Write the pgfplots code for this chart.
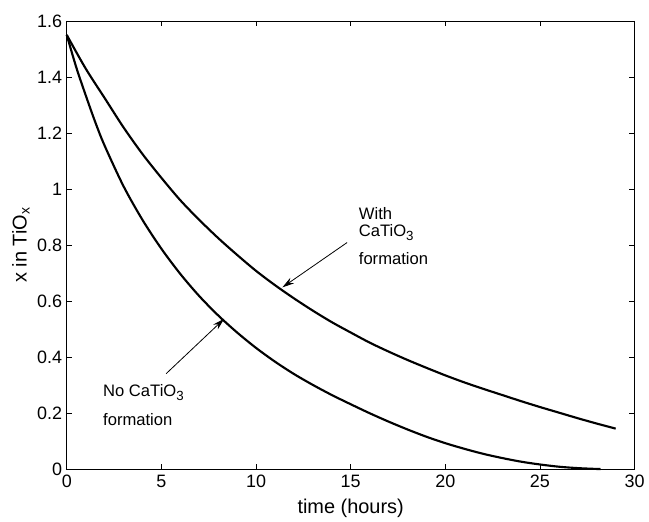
\documentclass[border=0pt]{standalone}
\usepackage{fontspec}
\setmainfont{Liberation Sans}
\usepackage{pgfplots}
\pgfplotsset{compat=1.18}
\usetikzlibrary{arrows.meta}
\newcommand{\fs}{\fontsize{12.5}{14}\selectfont}
\newcommand{\ft}{\fontsize{13.5}{15}\selectfont}
\newcommand{\fl}{\fontsize{15}{17}\selectfont}
\newcommand{\lowsub}[1]{\raisebox{-0.45ex}{\fontsize{10}{12}\selectfont #1}}
\begin{document}
\begin{tikzpicture}[every node/.style={font=\fs}]
\begin{axis}[
  scale only axis,
  width=427.5pt, height=337.5pt,
  xmin=0, xmax=30, ymin=0, ymax=1.6,
  xtick={0,5,...,30},
  ytick={0,0.2,0.4,0.6,0.8,1,1.2,1.4,1.6},
  /pgf/number format/assume math mode=true,
  tick align=inside,
  major tick length=4pt,
  tick style={black, line width=0.6pt},
  axis line style={black, line width=0.6pt},
  tick label style={font=\ft},
  label style={font=\fl},
  xticklabel style={yshift=-1pt},
  xlabel={time (hours)},
  ylabel={x in TiO\textsubscript{x}},
  x label style={at={(axis description cs:0.5,-0.087)}, anchor=center},
  y label style={at={(axis description cs:-0.0807,0.5)}, anchor=center},
  clip=false,
]
\addplot[black, line width=1.6pt, smooth, tension=0.5] coordinates {
(0,1.55) (1,1.43) (2,1.325) (3,1.22) (4,1.125) (5,1.04) (6,0.96) (7,0.89)
(8,0.825) (9,0.765) (10,0.708) (11,0.657) (12,0.61) (13,0.566) (14,0.525)
(15,0.488) (16,0.452) (17,0.42) (18,0.39) (19,0.362) (20,0.335) (21,0.31)
(22,0.287) (23,0.265) (24,0.243) (25,0.222) (26,0.202) (27,0.182) (28,0.163)
(29,0.145)
};
\addplot[black, line width=1.6pt, smooth, tension=0.5] coordinates {
(0,1.55) (0.5,1.435) (1,1.335) (1.5,1.24) (2,1.155) (3,1.01)
(4,0.89) (5,0.787) (6,0.697) (7,0.618) (8,0.549) (9,0.488) (10,0.433)
(11,0.384) (12,0.34) (13,0.301) (14,0.265) (15,0.232) (16,0.2) (17,0.17)
(18,0.142) (19,0.116) (20,0.093) (21,0.073) (22,0.055) (23,0.04) (24,0.027)
(25,0.017) (26,0.009) (27,0.004) (28,0.001) (28.2,0.001)
};
\draw[-{Stealth[length=9pt,width=5pt]}, line width=0.6pt] (axis cs:14.81,0.809) -- (axis cs:11.39,0.649);
\draw[-{Stealth[length=9pt,width=5pt]}, line width=0.6pt] (axis cs:5.25,0.341) -- (axis cs:8.32,0.537);
\node[anchor=base west, inner sep=0pt] at (axis cs:15.42,0.892) {With};
\node[anchor=base west, inner sep=0pt] at (axis cs:15.42,0.832) {CaTiO\lowsub{3}};
\node[anchor=base west, inner sep=0pt] at (axis cs:15.42,0.729) {formation};
\node[anchor=base west, inner sep=0pt] at (axis cs:1.91,0.258) {No CaTiO\lowsub{3}};
\node[anchor=base west, inner sep=0pt] at (axis cs:1.91,0.157) {formation};
\coordinate (sw) at (rel axis cs:0,0);
\coordinate (ne) at (rel axis cs:1,1);
\end{axis}
\path ([shift={(-50.25pt,-36.75pt)}]sw) rectangle ([shift={(9pt,15.75pt)}]ne);
\end{tikzpicture}
\end{document}
